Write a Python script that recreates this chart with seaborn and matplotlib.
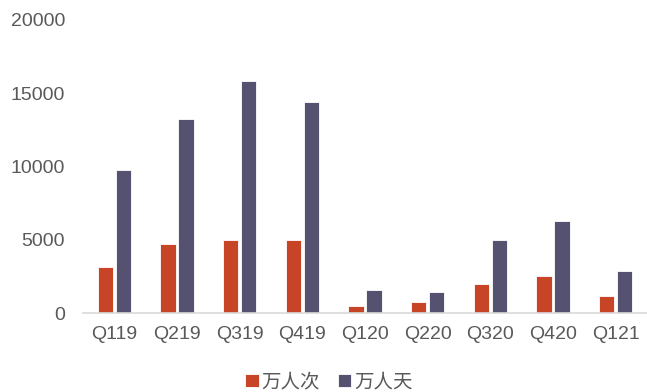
import matplotlib
matplotlib.use("Agg")
import matplotlib.pyplot as plt
from matplotlib.ticker import FixedLocator
import pandas as pd
import seaborn as sns

quarters = ["Q119", "Q219", "Q319", "Q419", "Q120", "Q220", "Q320", "Q420", "Q121"]
person_trips = [3130, 4700, 4980, 5000, 500, 790, 1980, 2560, 1200]
person_days = [9750, 13230, 15860, 14430, 1570, 1450, 5020, 6310, 2890]
series_names = ["万人次", "万人天"]
colors = ["#C74426", "#555170"]

df = pd.DataFrame({
    "quarter": quarters * 2,
    "value": person_trips + person_days,
    "series": [series_names[0]] * len(quarters) + [series_names[1]] * len(quarters),
})

sns.set_theme(style="white")
plt.rcParams["font.family"] = ["Liberation Sans", "Noto Sans CJK SC", "DejaVu Sans"]

fig = plt.figure(figsize=(6.47, 3.92), dpi=100)
ax = fig.add_axes([83 / 647, 1 - 313.3 / 392, 564 / 647, 293.3 / 392])

sns.barplot(data=df, x="quarter", y="value", hue="series", palette=colors,
            saturation=1, width=0.573, gap=0.13, edgecolor="white", linewidth=0.6, ax=ax)

ax.set_ylim(0, 20000)
ax.set_xlim(-0.5, len(quarters) - 0.5)
ax.set_yticks([0, 5000, 10000, 15000, 20000])
ax.set_xlabel("")
ax.set_ylabel("")

for side in ["top", "right", "left"]:
    ax.spines[side].set_visible(False)
ax.spines["bottom"].set_color("#D9D9D9")
ax.spines["bottom"].set_linewidth(1.2)

text_color = "#595959"
ax.tick_params(axis="y", length=0, pad=13, labelsize=14, labelcolor=text_color)
ax.tick_params(axis="x", which="major", length=0, pad=9, labelsize=14, labelcolor=text_color)
ax.xaxis.set_minor_locator(FixedLocator([i - 0.5 for i in range(len(quarters) + 1)]))
ax.tick_params(axis="x", which="minor", direction="in", length=4, width=1.2, color="#D9D9D9")

sns.move_legend(ax, "center", bbox_to_anchor=(0.436, -0.234), ncol=2, frameon=False,
                title=None, fontsize=14, handlelength=0.7, handleheight=0.7,
                handletextpad=0.15, columnspacing=0.9)
for t in ax.get_legend().get_texts():
    t.set_color(text_color)
    t.set_family(["Noto Sans CJK SC", "DejaVu Sans"])

fig.savefig("out.png", dpi=100)
